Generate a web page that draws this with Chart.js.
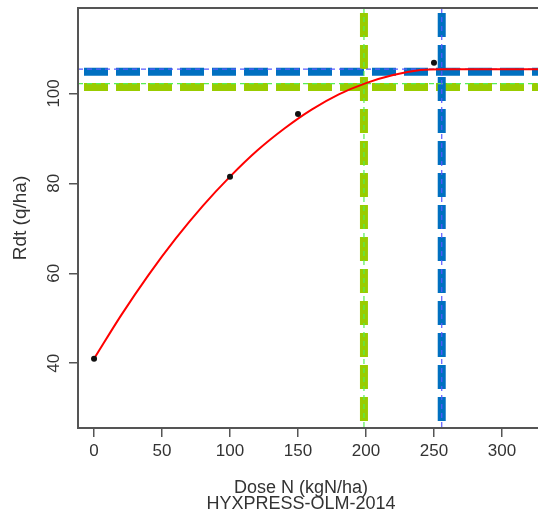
<!DOCTYPE html>
<html>
<head>
<meta charset="utf-8">
<script src="https://cdn.jsdelivr.net/npm/chart.js@4.4.1/dist/chart.umd.min.js"></script>
<style>
  body { margin: 0; background: #fff; }
  canvas { display: block; }
</style>
</head>
<body>
<canvas id="chart" width="538" height="515"></canvas>
<script>
// Observed yields
const doses = [0, 100, 150, 250];
const yields = [41, 81.5, 95.4, 106.8];

// Fitted curve
const curveDose = [0, 20, 40, 60, 80, 100, 120, 140, 160, 180, 200, 220, 240, 256, 327];
const curveYield = [41, 50.7, 59.6, 67.7, 75.0, 81.5, 87.3, 92.2, 96.4, 99.8, 102.3, 104.1, 105.2, 105.4, 105.4];

// Reference lines
const plateauYield = 105.4;
const plateauDose = 255.7;
const optYield = 102.2;
const optDose = 198.5;

// Axes
const xTicks = [0, 50, 100, 150, 200, 250, 300];
const yTicks = [40, 60, 80, 100];
const xRange = [-11.8, 326.5];
const yRange = [25.6, 119];

const xTitle = 'Dose N (kgN/ha)';
const subTitle = 'HYXPRESS-OLM-2014';
const yTitle = 'Rdt (q/ha)';

const FONT = "'Liberation Sans', Arial, sans-serif";
const BLUE = '#0070c0';
const GREEN = '#99cc00';

function hLine(y) {
    return [{ x: xRange[0], y: y }, { x: xRange[1], y: y }];
}
function vLine(x) {
    return [{ x: x, y: yRange[1] }, { x: x, y: yRange[0] }];
}

const thick = { borderWidth: 8, borderDash: [24, 8], borderDashOffset: 26, pointRadius: 0, fill: false };
const thin = { borderWidth: 1.2, borderDash: [5, 4], pointRadius: 0, fill: false };

// Box around the plot (left, top, bottom) and the x titles
const boxPlugin = {
    id: 'box',
    afterDraw(chart) {
        const { ctx, chartArea: a } = chart;
        ctx.save();
        ctx.strokeStyle = '#555';
        ctx.lineWidth = 2;
        ctx.beginPath();
        ctx.moveTo(a.right + 2, a.top);
        ctx.lineTo(a.left, a.top);
        ctx.lineTo(a.left, a.bottom);
        ctx.lineTo(a.right + 2, a.bottom);
        ctx.stroke();

        ctx.fillStyle = '#333';
        ctx.font = '18px ' + FONT;
        ctx.textAlign = 'center';
        ctx.textBaseline = 'middle';
        ctx.fillText(xTitle, 301, 488);
        ctx.fillText(subTitle, 301, 504);
        ctx.restore();
    }
};

new Chart(document.getElementById('chart'), {
    type: 'line',
    data: {
        datasets: [
            {
                data: doses.map((d, i) => ({ x: d, y: yields[i] })),
                showLine: false,
                pointRadius: 3,
                pointBackgroundColor: '#111',
                pointBorderColor: '#111',
                pointBorderWidth: 0
            },
            {
                data: curveDose.map((d, i) => ({ x: d, y: curveYield[i] })),
                borderColor: '#ff0000',
                borderWidth: 2,
                pointRadius: 0,
                cubicInterpolationMode: 'monotone',
                fill: false
            },
            { ...thin, data: vLine(plateauDose), borderColor: '#5a5aff' },
            { ...thin, data: hLine(plateauYield), borderColor: '#5a5aff' },
            { ...thin, data: vLine(optDose), borderColor: '#55ee55' },
            { ...thin, data: hLine(optYield), borderColor: '#55ee55' },
            { ...thick, data: vLine(plateauDose), borderColor: BLUE, borderDashOffset: 27 },
            { ...thick, data: vLine(optDose), borderColor: GREEN, borderDashOffset: 27 },
            { ...thick, data: hLine(plateauYield - 0.55), borderColor: BLUE },
            { ...thick, data: hLine(optYield - 0.75), borderColor: GREEN }
        ]
    },
    options: {
        responsive: false,
        animation: false,
        layout: { autoPadding: false, padding: { top: 8, left: 0, right: 0, bottom: 0 } },
        plugins: {
            legend: { display: false },
            tooltip: { enabled: false }
        },
        scales: {
            x: {
                type: 'linear',
                min: xRange[0],
                max: xRange[1],
                afterBuildTicks: s => { s.ticks = xTicks.map(v => ({ value: v })); },
                afterFit: s => { s.height = 87; s.paddingLeft = 0; s.paddingRight = 0; },
                grid: { display: true, drawOnChartArea: false, drawTicks: true, tickLength: 9, color: '#555', lineWidth: 1.5 },
                border: { display: false },
                ticks: { color: '#333', font: { family: FONT, size: 17 }, padding: 4, maxRotation: 0, autoSkip: false }
            },
            y: {
                type: 'linear',
                min: yRange[0],
                max: yRange[1],
                afterBuildTicks: s => { s.ticks = yTicks.map(v => ({ value: v })); },
                afterFit: s => { s.width = 78; s.paddingTop = 0; s.paddingBottom = 0; },
                grid: { display: true, drawOnChartArea: false, drawTicks: true, tickLength: 9, color: '#555', lineWidth: 1.5 },
                border: { display: false },
                ticks: { color: '#333', font: { family: FONT, size: 17 }, padding: 1, minRotation: 90, maxRotation: 90, crossAlign: 'center', autoSkip: false },
                title: { display: true, text: yTitle, color: '#333', font: { family: FONT, size: 19 }, padding: { top: 9, bottom: 0 } }
            }
        }
    },
    plugins: [boxPlugin]
});
</script>
</body>
</html>
